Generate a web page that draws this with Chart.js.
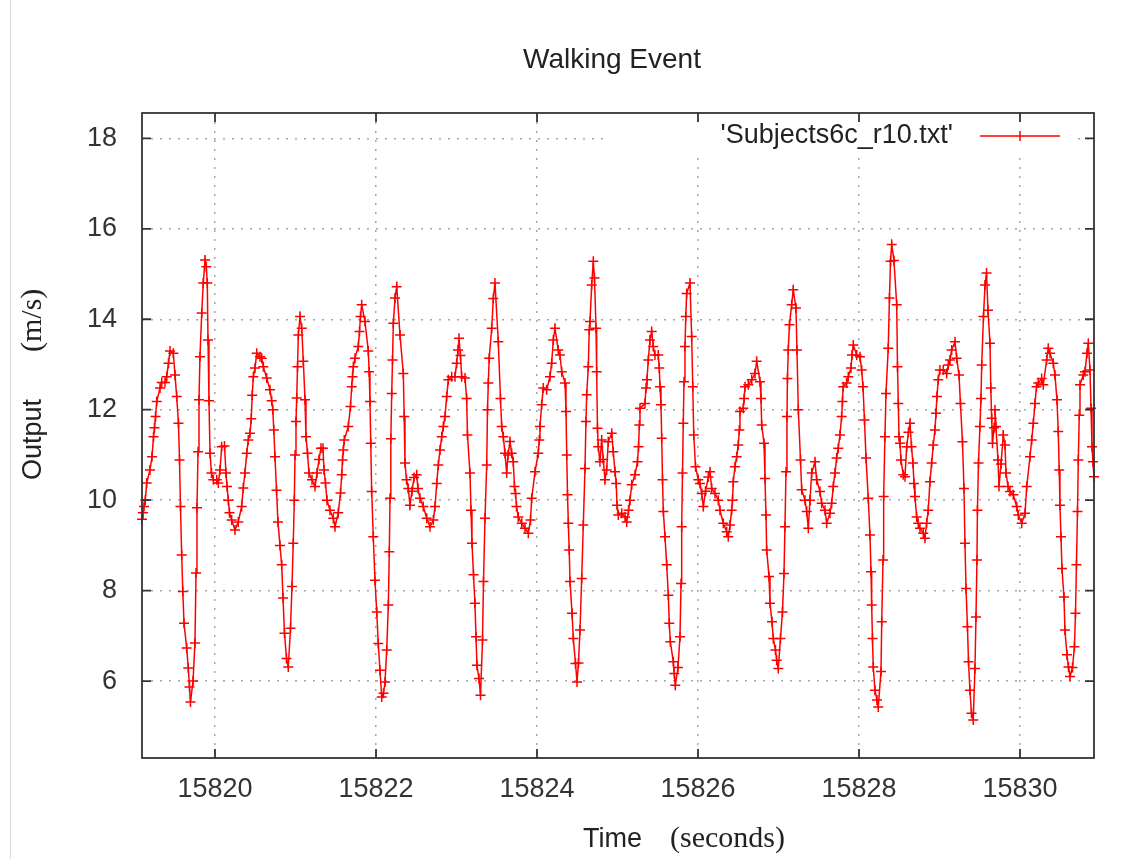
<!DOCTYPE html>
<html>
<head>
<meta charset="utf-8">
<title>Walking Event</title>
<script src="https://cdn.jsdelivr.net/npm/chart.js@4.4.0/dist/chart.umd.min.js"></script>
<style>
  body { margin: 0; background: #fff; }
  .wrap { position: relative; width: 1142px; height: 859px; }
  .edge { position: absolute; left: 10px; top: 0; width: 1px; height: 859px; background: #dadada; }
</style>
</head>
<body>
<div class="wrap">
  <canvas id="walkChart" width="1142" height="859"></canvas>
  <div class="edge"></div>
</div>
<script>
// time stamps (seconds)
const time = [
  15819.093, 15819.105, 15819.118, 15819.134, 15819.151, 15819.192, 15819.217, 15819.236, 15819.248, 15819.261,
  15819.276, 15819.317, 15819.338, 15819.379, 15819.400, 15819.422, 15819.441, 15819.482, 15819.503, 15819.524,
  15819.546, 15819.559, 15819.571, 15819.586, 15819.600, 15819.615, 15819.648, 15819.668, 15819.683, 15819.695,
  15819.727, 15819.751, 15819.764, 15819.776, 15819.789, 15819.801, 15819.813, 15819.835, 15819.854, 15819.876,
  15819.892, 15819.904, 15819.913, 15819.925, 15819.938, 15819.956, 15819.979,
  15820.021, 15820.041, 15820.062, 15820.083, 15820.118, 15820.136, 15820.149, 15820.165, 15820.180, 15820.207,
  15820.248, 15820.289, 15820.331, 15820.351, 15820.372, 15820.394, 15820.413, 15820.435, 15820.450, 15820.462,
  15820.476, 15820.497, 15820.518, 15820.559, 15820.580, 15820.600, 15820.642, 15820.683, 15820.704, 15820.718,
  15820.730, 15820.745, 15820.764, 15820.782, 15820.807, 15820.828, 15820.845, 15820.863, 15820.888, 15820.910,
  15820.938, 15820.956, 15820.972, 15820.985, 15820.994,
  15821.006, 15821.015, 15821.025, 15821.035, 15821.056, 15821.077, 15821.097, 15821.118, 15821.130, 15821.149,
  15821.167, 15821.205, 15821.242, 15821.267, 15821.292, 15821.316, 15821.341, 15821.354, 15821.372, 15821.391,
  15821.428, 15821.469, 15821.490, 15821.531, 15821.559, 15821.574, 15821.584, 15821.594, 15821.605, 15821.656,
  15821.683, 15821.698, 15821.708, 15821.718, 15821.739, 15821.780, 15821.795, 15821.807, 15821.822, 15821.863,
  15821.904, 15821.915, 15821.925, 15821.935, 15821.946, 15821.966, 15821.987,
  15822.009, 15822.028, 15822.049, 15822.071, 15822.093, 15822.112, 15822.133, 15822.153, 15822.165, 15822.174,
  15822.184, 15822.195, 15822.205, 15822.215, 15822.236, 15822.257, 15822.298, 15822.339, 15822.350, 15822.360,
  15822.379, 15822.401, 15822.422, 15822.447, 15822.472, 15822.505, 15822.521, 15822.546, 15822.587, 15822.630,
  15822.671, 15822.712, 15822.733, 15822.754, 15822.774, 15822.795, 15822.816, 15822.836, 15822.857, 15822.878,
  15822.898, 15822.940, 15822.981,
  15823.002, 15823.018, 15823.031, 15823.049, 15823.064, 15823.105, 15823.126, 15823.136, 15823.167, 15823.180,
  15823.192, 15823.211, 15823.229, 15823.242, 15823.254, 15823.279, 15823.298, 15823.323, 15823.335, 15823.354,
  15823.375, 15823.385, 15823.395, 15823.406, 15823.437, 15823.457, 15823.478, 15823.519, 15823.546, 15823.561,
  15823.581, 15823.602, 15823.623, 15823.640, 15823.664, 15823.685, 15823.705, 15823.720, 15823.733, 15823.745,
  15823.767, 15823.810, 15823.851, 15823.892, 15823.919, 15823.934, 15823.975,
  15824.016, 15824.028, 15824.037, 15824.058, 15824.078, 15824.120, 15824.161, 15824.182, 15824.202, 15824.223,
  15824.264, 15824.285, 15824.307, 15824.348, 15824.360, 15824.369, 15824.379, 15824.389, 15824.400, 15824.410,
  15824.435, 15824.451, 15824.478, 15824.497, 15824.515, 15824.534, 15824.555, 15824.575, 15824.596, 15824.608,
  15824.617, 15824.637, 15824.649, 15824.658, 15824.679, 15824.699, 15824.714, 15824.733, 15824.741, 15824.751,
  15824.761, 15824.782, 15824.803, 15824.823, 15824.844, 15824.865, 15824.885, 15824.928, 15824.947, 15824.969,
  15824.984, 15824.994,
  15825.010, 15825.052, 15825.093, 15825.114, 15825.137, 15825.155, 15825.176, 15825.217, 15825.248, 15825.261,
  15825.271, 15825.279, 15825.341, 15825.354, 15825.366, 15825.382, 15825.403, 15825.424, 15825.444, 15825.465,
  15825.506, 15825.519, 15825.528, 15825.540, 15825.549, 15825.559, 15825.569, 15825.590, 15825.611, 15825.631,
  15825.643, 15825.656, 15825.693, 15825.705, 15825.718, 15825.751, 15825.776, 15825.789, 15825.797, 15825.807,
  15825.817, 15825.826, 15825.838, 15825.848, 15825.859, 15825.900, 15825.921, 15825.935, 15825.947, 15825.969,
  15826.003, 15826.024, 15826.046, 15826.066, 15826.093, 15826.128, 15826.149, 15826.170, 15826.211, 15826.252,
  15826.273, 15826.314, 15826.356, 15826.376, 15826.397, 15826.418, 15826.428, 15826.438, 15826.459, 15826.480,
  15826.500, 15826.513, 15826.521, 15826.562, 15826.573, 15826.584, 15826.625, 15826.667, 15826.708, 15826.729,
  15826.770, 15826.782, 15826.791, 15826.820, 15826.832, 15826.844, 15826.853, 15826.882, 15826.894, 15826.919,
  15826.935, 15826.962, 15826.977, 15826.997,
  15827.024, 15827.049, 15827.068, 15827.080, 15827.093, 15827.105, 15827.111, 15827.121, 15827.136, 15827.163,
  15827.183, 15827.217, 15827.229, 15827.246, 15827.273, 15827.288, 15827.329, 15827.350, 15827.370, 15827.391,
  15827.412, 15827.453, 15827.474, 15827.515, 15827.536, 15827.577, 15827.598, 15827.639, 15827.660, 15827.680,
  15827.701, 15827.722, 15827.742, 15827.763, 15827.784, 15827.794, 15827.804, 15827.846, 15827.867, 15827.900,
  15827.913, 15827.929, 15827.971,
  15828.012, 15828.033, 15828.049, 15828.068, 15828.087, 15828.115, 15828.136, 15828.149, 15828.157, 15828.167,
  15828.177, 15828.198, 15828.223, 15828.239, 15828.273, 15828.282, 15828.298, 15828.306, 15828.322, 15828.335,
  15828.363, 15828.378, 15828.391, 15828.406, 15828.434, 15828.468, 15828.478, 15828.488, 15828.497, 15828.509,
  15828.521, 15828.550, 15828.571, 15828.592, 15828.614, 15828.633, 15828.652, 15828.670, 15828.683, 15828.695,
  15828.716, 15828.736, 15828.757, 15828.798, 15828.819, 15828.840, 15828.860, 15828.881, 15828.902, 15828.922,
  15828.943, 15828.956, 15828.968, 15828.984,
  15829.005, 15829.046, 15829.089, 15829.109, 15829.130, 15829.151, 15829.192, 15829.213, 15829.242, 15829.260,
  15829.285, 15829.304, 15829.316, 15829.329, 15829.347, 15829.360, 15829.378, 15829.397, 15829.419, 15829.440,
  15829.453, 15829.465, 15829.471, 15829.484, 15829.502, 15829.515, 15829.524, 15829.546, 15829.565, 15829.584,
  15829.602, 15829.627, 15829.637, 15829.648, 15829.658, 15829.677, 15829.689, 15829.701, 15829.726, 15829.739,
  15829.764, 15829.792, 15829.813, 15829.826, 15829.851, 15829.875, 15829.916, 15829.959, 15829.979,
  15830.021, 15830.062, 15830.083, 15830.124, 15830.145, 15830.165, 15830.186, 15830.205, 15830.227, 15830.269,
  15830.289, 15830.331, 15830.351, 15830.372, 15830.413, 15830.434, 15830.459, 15830.475, 15830.487, 15830.496,
  15830.509, 15830.521, 15830.546, 15830.558, 15830.583, 15830.602, 15830.621, 15830.652, 15830.676, 15830.689,
  15830.701, 15830.714, 15830.724, 15830.736, 15830.745, 15830.786, 15830.807, 15830.832, 15830.848, 15830.869,
  15830.882, 15830.894, 15830.906, 15830.919
];

// output (m/s), same order as time
const output = [
  9.58, 9.72, 9.86, 10.0, 10.38, 10.67, 10.96, 11.4, 11.6, 11.85,
  12.18, 12.48, 12.6, 12.6, 12.73, 13.03, 13.3, 13.25, 12.77, 12.29,
  11.7, 10.89, 9.86, 8.79, 7.98, 7.28, 6.73, 6.29, 5.87, 5.54,
  6.0, 6.84, 8.39, 9.83, 11.07, 12.22, 13.17, 14.14, 14.8, 15.31,
  15.16, 14.8, 13.54, 12.2, 11.04, 10.6, 10.45,
  10.45, 10.38, 10.67, 11.18, 11.2, 10.6, 10.3, 10.0, 9.72, 9.56,
  9.34, 9.52, 9.86, 10.27, 10.6, 11.04, 11.33, 11.48, 11.8, 12.32,
  12.73, 12.92, 13.25, 13.17, 13.14, 12.95, 12.7, 12.44, 12.2, 12.0,
  11.55, 10.96, 10.22, 9.52, 9.0, 8.57, 7.84, 7.06, 6.5, 6.31,
  7.17, 8.09, 9.05, 10.0, 11.0,
  11.74, 12.26, 12.95, 13.65, 14.06, 13.8, 13.07, 12.22, 11.4, 11.04,
  10.6, 10.45, 10.3, 10.6, 10.9, 11.15, 11.15, 10.67, 10.38, 10.0,
  9.78, 9.6, 9.41, 9.72, 10.16, 10.56, 10.89, 11.11, 11.33, 11.63,
  12.07, 12.51, 12.73, 12.95, 13.14, 13.4, 13.73, 14.06, 14.32, 13.95,
  13.3, 12.84, 12.18, 11.26, 10.19, 9.19, 8.23,
  7.53, 6.83, 6.24, 5.65, 5.73, 5.98, 6.69, 7.68, 8.86, 10.04,
  11.36, 12.36, 13.1, 13.91, 14.47, 14.72, 13.65, 12.8, 11.85, 10.82,
  10.45, 10.26, 9.89, 10.2, 10.5, 10.56, 10.26, 10.04, 9.86, 9.6,
  9.41, 9.56, 9.86, 10.37, 10.78, 11.11, 11.4, 11.63, 11.85, 12.29,
  12.66, 12.73, 12.73,
  13.03, 13.32, 13.58, 13.2, 12.73, 12.7, 12.25, 11.44, 10.6, 9.78,
  9.05, 8.35, 7.72, 6.98, 6.35, 6.06, 5.69, 6.91, 8.2, 9.6,
  10.78, 12.0, 12.59, 13.14, 13.8, 14.46, 14.8, 13.5, 12.25, 11.63,
  11.4, 11.04, 10.6, 11.0, 11.3, 11.04, 10.85, 10.3, 10.15, 9.86,
  9.63, 9.49, 9.38, 9.27, 9.56, 10.04, 10.63,
  11.04, 11.33, 11.63, 12.11, 12.48, 12.44, 12.73, 13.03, 13.54, 13.8,
  13.32, 13.21, 12.84, 12.59, 11.96, 11.0, 10.12, 9.49, 8.9, 8.2,
  7.5, 6.94, 6.39, 5.98, 6.4, 7.13, 8.27, 9.45, 10.7, 11.74,
  12.33, 12.95, 13.77, 13.95, 14.76, 15.28, 14.91, 13.8, 12.84, 11.59,
  11.18, 10.85, 11.33, 10.9, 10.45, 10.67, 11.29, 11.48, 11.07, 10.63,
  10.37, 9.89,
  9.67, 9.71, 9.63, 9.52, 9.78, 10.0, 10.34, 10.56, 10.85, 11.18,
  11.66, 12.03, 12.14, 12.48, 12.66, 13.1, 13.54, 13.73, 13.4, 13.21,
  13.21, 12.92, 12.51, 12.11, 11.37, 10.45, 9.75, 9.19, 8.57, 7.9,
  7.28, 6.87, 6.43, 6.17, 5.91, 6.3, 6.98, 8.16, 9.41, 10.6,
  11.7, 12.62, 13.4, 14.06, 14.57, 14.8, 13.62, 12.51, 11.44, 10.74,
  10.45, 10.37, 10.15, 9.86, 10.2, 10.51, 10.63, 10.26, 10.15, 10.0,
  9.78, 9.49, 9.3, 9.19, 9.45, 9.78, 10.0, 10.41, 10.74, 10.96,
  11.22, 11.55, 11.96, 12.03, 12.25, 12.51, 12.55, 12.66, 12.8, 13.07,
  12.62, 12.25, 11.66, 11.26, 10.48, 9.67, 8.9, 8.31, 7.72, 7.31,
  6.94, 6.69, 6.46, 6.28,
  6.94, 7.53, 8.38, 9.41, 10.63, 11.85, 12.69, 13.32, 13.88, 14.32,
  14.65, 14.25, 13.32, 12.0, 10.89, 10.23, 10.0, 9.75, 9.38, 10.0,
  10.6, 10.85, 10.45, 10.19, 9.93, 9.78, 9.49, 9.71, 9.93, 10.3,
  10.6, 10.93, 11.15, 11.44, 11.85, 12.18, 12.51, 12.59, 12.73, 12.92,
  13.21, 13.43, 13.21,
  13.17, 12.88, 12.51, 11.77, 10.93, 10.04, 9.23, 8.42, 7.68, 6.94,
  6.31, 5.8, 5.58, 5.43, 6.21, 7.31, 8.68, 10.08, 11.4, 12.36,
  13.36, 14.47, 15.28, 15.65, 15.3, 14.32, 12.95, 12.14, 11.4, 11.26,
  10.89, 10.56, 10.52, 11.18, 11.5, 11.7, 11.18, 10.82, 10.37, 10.08,
  9.63, 9.49, 9.38, 9.27, 9.16, 9.49, 9.78, 10.41, 10.82, 11.22,
  11.55, 11.92, 12.29, 12.66,
  12.88, 12.88, 12.8, 12.99, 13.1, 13.32, 13.5, 13.14, 12.77, 12.14,
  11.29, 10.26, 9.05, 8.05, 7.2, 6.43, 5.8, 5.29, 5.14, 6.28,
  7.42, 8.68, 9.78, 10.82, 11.63, 12.25, 12.99, 14.06, 14.76, 15.02,
  14.2, 13.47, 12.48, 11.81, 11.26, 11.6, 12.0, 11.63, 10.89, 10.3,
  10.8, 11.44, 11.22, 10.6, 10.3, 10.19, 10.12, 9.86, 9.67,
  9.49, 9.71, 10.3, 10.96, 11.33, 11.7, 12.14, 12.51, 12.59, 12.69,
  12.55, 13.1, 13.36, 13.25, 13.03, 12.77, 12.22, 11.52, 10.67, 9.89,
  9.19, 8.49, 7.86, 7.13, 6.58, 6.31, 6.1, 6.3, 6.76, 7.5,
  8.57, 9.75, 10.89, 11.88, 12.55, 12.77, 12.84, 13.25, 13.47, 12.88,
  12.03, 11.18, 10.85, 10.52
];

const xTicks = [15820, 15822, 15824, 15826, 15828, 15830];
const yTicks = [6, 8, 10, 12, 14, 16, 18];
const xRange = [15819.093, 15830.919];
const yRange = [4.3, 18.56];

const chartTitle = 'Walking Event';
const seriesLabel = "'Subjects6c_r10.txt'";
const xTitle = ['Time', '(seconds)'];
const yTitle = ['Output', '(m/s)'];

const sans = "'Liberation Sans', Arial, sans-serif";
const serif = "'Liberation Serif', 'Times New Roman', serif";
const red = '#ff0000';
const ink = '#333333';

const points = time.map((t, i) => ({ x: t, y: output[i] }));

// gnuplot style extras: title, key box, frame with inward tics, mixed-font axis labels
const gnuplotLook = {
  id: 'gnuplotLook',
  afterDatasetsDraw(chart) {
    const ctx = chart.ctx;
    const a = chart.chartArea;
    ctx.save();
    ctx.fillStyle = '#ffffff';
    ctx.fillRect(a.right - 489, a.top + 1, 472, 39);
    ctx.fillStyle = '#222';
    ctx.font = '27px ' + sans;
    ctx.textAlign = 'right';
    ctx.textBaseline = 'alphabetic';
    ctx.fillText(seriesLabel, a.right - 141, a.top + 30);
    ctx.strokeStyle = red;
    ctx.lineWidth = 1.5;
    ctx.beginPath();
    ctx.moveTo(a.right - 114, a.top + 23);
    ctx.lineTo(a.right - 34, a.top + 23);
    ctx.moveTo(a.right - 74, a.top + 18);
    ctx.lineTo(a.right - 74, a.top + 28);
    ctx.stroke();
    ctx.restore();
  },
  afterDraw(chart) {
    const ctx = chart.ctx;
    const a = chart.chartArea;
    const xs = chart.scales.x;
    const ys = chart.scales.y;
    ctx.save();
    ctx.strokeStyle = ink;
    ctx.lineWidth = 1.8;
    ctx.strokeRect(a.left, a.top, a.right - a.left, a.bottom - a.top);
    ctx.beginPath();
    xTicks.forEach(v => {
      const px = xs.getPixelForValue(v);
      ctx.moveTo(px, a.bottom); ctx.lineTo(px, a.bottom - 9);
      ctx.moveTo(px, a.top); ctx.lineTo(px, a.top + 9);
    });
    yTicks.forEach(v => {
      const py = ys.getPixelForValue(v);
      ctx.moveTo(a.left, py); ctx.lineTo(a.left + 9, py);
      ctx.moveTo(a.right, py); ctx.lineTo(a.right - 9, py);
    });
    ctx.stroke();

    ctx.fillStyle = '#222';
    ctx.textBaseline = 'alphabetic';
    ctx.textAlign = 'center';
    ctx.font = '28px ' + sans;
    ctx.fillText(chartTitle, 612, 68);

    ctx.textAlign = 'left';
    ctx.font = '27px ' + sans;
    ctx.fillText(xTitle[0], 583, 847);
    ctx.font = '30px ' + serif;
    ctx.fillText(xTitle[1], 670, 847);

    ctx.translate(41, 480);
    ctx.rotate(-Math.PI / 2);
    ctx.font = '27px ' + sans;
    ctx.fillText(yTitle[0], 0, 0);
    ctx.font = '30px ' + serif;
    ctx.fillText(yTitle[1], 128, 0);
    ctx.restore();
  }
};

new Chart(document.getElementById('walkChart'), {
  type: 'line',
  data: {
    datasets: [{
      label: seriesLabel,
      data: points,
      borderColor: red,
      borderWidth: 1.5,
      pointStyle: 'cross',
      pointRadius: 5,
      pointBorderWidth: 1.5,
      pointBorderColor: red,
      pointBackgroundColor: red,
      tension: 0,
      fill: false,
      clip: false
    }]
  },
  options: {
    responsive: false,
    animation: false,
    events: [],
    layout: { padding: { left: 0, right: 48, top: 113, bottom: 0 } },
    plugins: {
      legend: { display: false },
      tooltip: { enabled: false },
      title: { display: false }
    },
    scales: {
      x: {
        type: 'linear',
        min: xRange[0],
        max: xRange[1],
        afterBuildTicks: s => { s.ticks = xTicks.map(v => ({ value: v })); },
        afterFit: s => { s.height = 101; },
        ticks: {
          color: ink,
          font: { family: sans, size: 27 },
          padding: 15,
          maxRotation: 0,
          callback: v => String(v)
        },
        grid: { color: '#a6a6a6', lineWidth: 1.5, drawTicks: false },
        border: { display: false, dash: [2, 7] }
      },
      y: {
        min: yRange[0],
        max: yRange[1],
        afterBuildTicks: s => { s.ticks = yTicks.map(v => ({ value: v })); },
        afterFit: s => { s.width = 142; },
        ticks: {
          color: ink,
          font: { family: sans, size: 27 },
          padding: 25,
          callback: v => String(v)
        },
        grid: { color: '#a6a6a6', lineWidth: 1.5, drawTicks: false },
        border: { display: false, dash: [2, 7] }
      }
    }
  },
  plugins: [gnuplotLook]
});
</script>
</body>
</html>
